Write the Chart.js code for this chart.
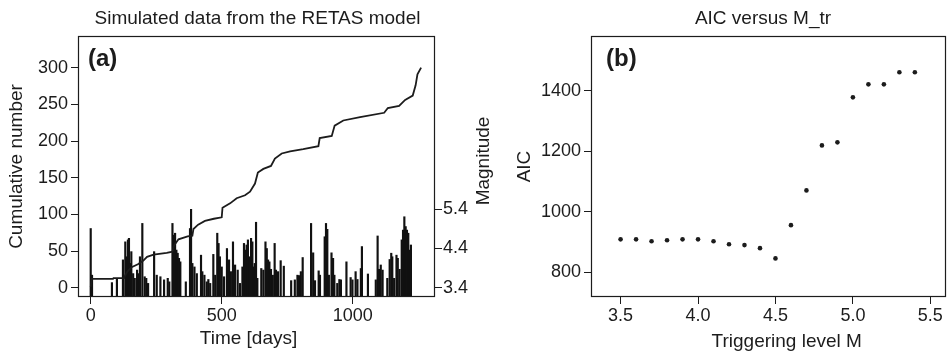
<!DOCTYPE html>
<html>
<head>
<meta charset="utf-8">
<script src="https://cdn.jsdelivr.net/npm/chart.js@4.4.0/dist/chart.umd.min.js"></script>
<style>
  html, body { margin: 0; padding: 0; background: #fff; }
  #wrap { position: relative; width: 950px; height: 351px; }
  canvas { position: absolute; top: 0; }
  #ca { left: 0; }
  #cb { left: 500px; }
</style>
</head>
<body>
<div id="wrap">
  <canvas id="ca" width="500" height="351"></canvas>
  <canvas id="cb" width="450" height="351"></canvas>
</div>
<script>
// ---------- Panel (a): cumulative number of simulated events ----------
const cumTime  = [0, 4, 85, 87, 127, 132, 140, 156, 180, 201, 215, 240, 290, 312, 317, 335, 370, 388, 392, 410, 436, 470, 500, 503, 532, 557, 589, 608, 627, 638, 659, 688, 703, 729, 761, 811, 869, 874, 920, 931, 964, 1028, 1120, 1134, 1177, 1200, 1229, 1240, 1247, 1261];
const cumCount = [1, 12, 12, 13, 13, 17, 22, 28, 32, 37, 42, 45, 47.5, 49, 57, 66, 70, 71, 80, 86, 91, 94, 96, 109, 115, 122, 126, 131, 142, 157, 162, 166, 176, 183, 186, 189, 193, 204, 207, 221, 228, 232.5, 238.5, 245, 248, 256, 262, 276, 291, 300];

// ---------- Panel (a): event magnitudes ----------
const eventTime = [0, 5, 81, 100, 123, 132, 136, 142, 146, 150, 155, 162, 168, 177, 182, 188, 197, 206, 212, 219, 242, 252, 266, 280,
  294, 300, 312, 317, 322, 327, 332, 337, 342, 363, 379, 383, 388, 396, 405, 421, 426, 434, 443, 449, 456, 468, 475, 483, 488, 493,
  500, 509, 520, 528, 535, 543, 551, 561, 570, 579, 585, 590, 595, 600, 605, 612, 617, 623,
  626, 631, 636, 651, 659, 667, 672, 677, 682, 688, 695, 702, 707, 715, 725, 737, 765, 779, 789, 795, 802, 809, 841, 849, 856,
  870, 875, 893, 898, 903, 909, 919, 925, 930, 941, 949, 955,
  976, 992, 999, 1011, 1018, 1031, 1035, 1058, 1088, 1095, 1100, 1107, 1114, 1132, 1141, 1147, 1151, 1158, 1167, 1172, 1179,
  1187, 1192, 1197, 1202, 1207, 1212, 1217, 1222];
const eventMag = [4.91, 3.72, 3.53, 3.64, 4.11, 4.57, 4.19, 4.62, 4.66, 4.02, 4.32, 3.76, 3.64, 3.85, 3.76, 4.19, 5.04, 3.68, 3.64, 3.51, 4.32, 3.72, 3.68, 3.60,
  3.64, 3.55, 5.04, 4.74, 4.79, 4.36, 4.28, 4.15, 4.06, 3.55, 4.91, 5.40, 4.02, 3.93, 3.76, 4.23, 3.81, 3.72, 3.55, 3.61, 3.51, 4.25, 3.72, 4.79, 4.53, 4.19,
  3.93, 3.68, 4.40, 4.11, 3.81, 4.57, 3.98, 3.85, 3.51, 3.93, 4.53, 4.36, 4.49, 4.62, 4.19, 4.66, 4.57, 3.93,
  4.02, 5.07, 3.64, 3.89, 3.85, 4.57, 4.40, 4.11, 4.06, 3.87, 3.72, 4.53, 3.85, 3.81, 4.09, 3.95, 3.58, 3.60, 3.72, 3.71, 3.81, 4.17, 5.04, 4.29, 3.58,
  3.83, 3.72, 4.70, 5.04, 4.89, 3.72, 4.29, 4.15, 3.72, 3.51, 3.61, 3.60,
  4.06, 3.66, 3.60, 3.81, 3.61, 3.89, 4.45, 3.75, 3.60, 4.72, 3.87, 3.98, 3.85, 3.64, 4.12, 4.28, 4.19, 3.64, 4.23, 4.15, 3.87,
  4.62, 4.87, 5.21, 4.96, 4.87, 4.79, 4.36, 4.49];

// ---------- Panel (b): AIC versus triggering level ----------
const trigLevel = [3.5, 3.6, 3.7, 3.8, 3.9, 4.0, 4.1, 4.2, 4.3, 4.4, 4.5, 4.6, 4.7, 4.8, 4.9, 5.0, 5.1, 5.2, 5.3, 5.4];
const aicValue  = [909, 909, 903, 906, 909, 909, 903, 893, 890, 880, 846, 956, 1071, 1220, 1230, 1379, 1422, 1422, 1462, 1462];

// ---------- Tick labels ----------
const cumTicks  = [0, 50, 100, 150, 200, 250, 300];
const timeTicks = [0, 500, 1000];
const magTicks  = [3.4, 4.4, 5.4];
const trigTicks = [3.5, 4.0, 4.5, 5.0, 5.5];
const aicTicks  = [800, 1000, 1200, 1400];

// ---------- Styling ----------
const FONT = "'Liberation Sans', Arial, Helvetica, sans-serif";
const INK = '#1c1c1c';
Chart.defaults.font.family = FONT;
Chart.defaults.color = INK;

const plain = v => String(v);
const oneDec = v => Number(v).toFixed(1);

function setTicks(arr) {
  return (scale) => { scale.ticks = arr.map(v => ({ value: v })); };
}
function fixSize(prop, size) {
  return (scale) => {
    scale[prop] = size;
    scale.paddingLeft = 0; scale.paddingRight = 0;
    scale.paddingTop = 0; scale.paddingBottom = 0;
  };
}
function axisBase(extra) {
  return Object.assign({
    type: 'linear',
    offset: false,
    border: { display: false },
    grid: { display: true, offset: false, drawOnChartArea: false, drawTicks: true, tickLength: 7, color: INK, tickColor: INK, lineWidth: 1 }
  }, extra);
}
function tickOpts(padding, callback) {
  return { font: { size: 18 }, color: INK, maxRotation: 0, autoSkip: false, padding: padding, callback: callback };
}

// Frame and free-placed texts
const frameText = {
  id: 'frameText',
  afterDraw(chart, args, opts) {
    const { ctx, chartArea: a } = chart;
    ctx.save();
    ctx.strokeStyle = INK;
    ctx.lineWidth = 1.2;
    ctx.strokeRect(Math.round(a.left) + 0.5, Math.round(a.top) + 0.5,
                   Math.round(a.right - a.left) - 1, Math.round(a.bottom - a.top) - 1);
    ctx.fillStyle = INK;
    for (const t of (opts.texts || [])) {
      ctx.save();
      ctx.font = t.font;
      ctx.textAlign = t.align || 'center';
      ctx.textBaseline = t.baseline || 'alphabetic';
      ctx.translate(t.x, t.y);
      if (t.rot) ctx.rotate(t.rot);
      ctx.fillText(t.text, 0, 0);
      ctx.restore();
    }
    ctx.restore();
  }
};

const magMin = 3.163;

// ---------- Chart (a) ----------
new Chart(document.getElementById('ca'), {
  type: 'bar',
  data: {
    datasets: [
      {
        type: 'line',
        label: 'Cumulative number',
        data: cumTime.map((t, i) => ({ x: t, y: cumCount[i] })),
        yAxisID: 'y',
        borderColor: INK,
        borderWidth: 1.8,
        pointRadius: 0,
        tension: 0,
        fill: false
      },
      {
        type: 'bar',
        label: 'Magnitude',
        data: eventTime.map((t, i) => ({ x: t, y: eventMag[i] })),
        yAxisID: 'y2',
        backgroundColor: '#111',
        borderWidth: 0,
        barThickness: 1.5,
        base: magMin,
        grouped: false,
        clip: 0
      }
    ]
  },
  options: {
    responsive: false,
    animation: false,
    layout: { padding: { top: 36, left: 0, right: 0, bottom: 0 } },
    plugins: {
      legend: { display: false },
      tooltip: { enabled: false },
      frameText: {
        texts: [
          { text: 'Simulated data from the RETAS model', x: 257.5, y: 24, font: `19px ${FONT}` },
          { text: '(a)', x: 88, y: 66, align: 'left', font: `bold 24px ${FONT}` },
          { text: 'Time [days]', x: 248.5, y: 344, font: `19px ${FONT}` },
          { text: 'Magnitude', x: 484, y: 161, rot: -Math.PI / 2, baseline: 'middle', font: `19px ${FONT}` }
        ]
      }
    },
    scales: {
      x: axisBase({
        position: 'bottom',
        min: -48.5, max: 1314,
        afterBuildTicks: setTicks(timeTicks),
        afterFit: fixSize('height', 54),
        ticks: tickOpts(1, plain)
      }),
      y: axisBase({
        position: 'left',
        min: -12.7, max: 343.2,
        afterBuildTicks: setTicks(cumTicks),
        afterFit: fixSize('width', 78),
        ticks: tickOpts(3, plain),
        title: { display: true, text: 'Cumulative number', font: { size: 19 }, color: INK, padding: { top: 5.3, bottom: 0 } }
      }),
      y2: axisBase({
        position: 'right',
        min: magMin, max: 9.821,
        afterBuildTicks: setTicks(magTicks),
        afterFit: fixSize('width', 65),
        ticks: tickOpts(1, oneDec)
      })
    }
  },
  plugins: [frameText]
});

// ---------- Chart (b) ----------
new Chart(document.getElementById('cb'), {
  type: 'scatter',
  data: {
    datasets: [{
      label: 'AIC',
      data: trigLevel.map((m, i) => ({ x: m, y: aicValue[i] })),
      backgroundColor: INK,
      borderWidth: 0,
      pointRadius: 2.3,
      showLine: false
    }]
  },
  options: {
    responsive: false,
    animation: false,
    layout: { padding: { top: 36, left: 0, right: 2, bottom: 0 } },
    plugins: {
      legend: { display: false },
      tooltip: { enabled: false },
      frameText: {
        texts: [
          { text: 'AIC versus M_tr', x: 263, y: 24, font: `19px ${FONT}` },
          { text: '(b)', x: 106, y: 66, align: 'left', font: `bold 24px ${FONT}` },
          { text: 'Triggering level M', x: 286.7, y: 347, font: `19px ${FONT}` }
        ]
      }
    },
    scales: {
      x: axisBase({
        position: 'bottom',
        min: 3.309, max: 5.601,
        afterBuildTicks: setTicks(trigTicks),
        afterFit: fixSize('height', 54),
        ticks: tickOpts(1, oneDec)
      }),
      y: axisBase({
        position: 'left',
        min: 718.3, max: 1582,
        afterBuildTicks: setTicks(aicTicks),
        afterFit: fixSize('width', 91),
        ticks: tickOpts(3, plain),
        title: { display: true, text: 'AIC', font: { size: 19 }, color: INK, padding: { top: 13.6, bottom: 0 } }
      })
    }
  },
  plugins: [frameText]
});
</script>
</body>
</html>
